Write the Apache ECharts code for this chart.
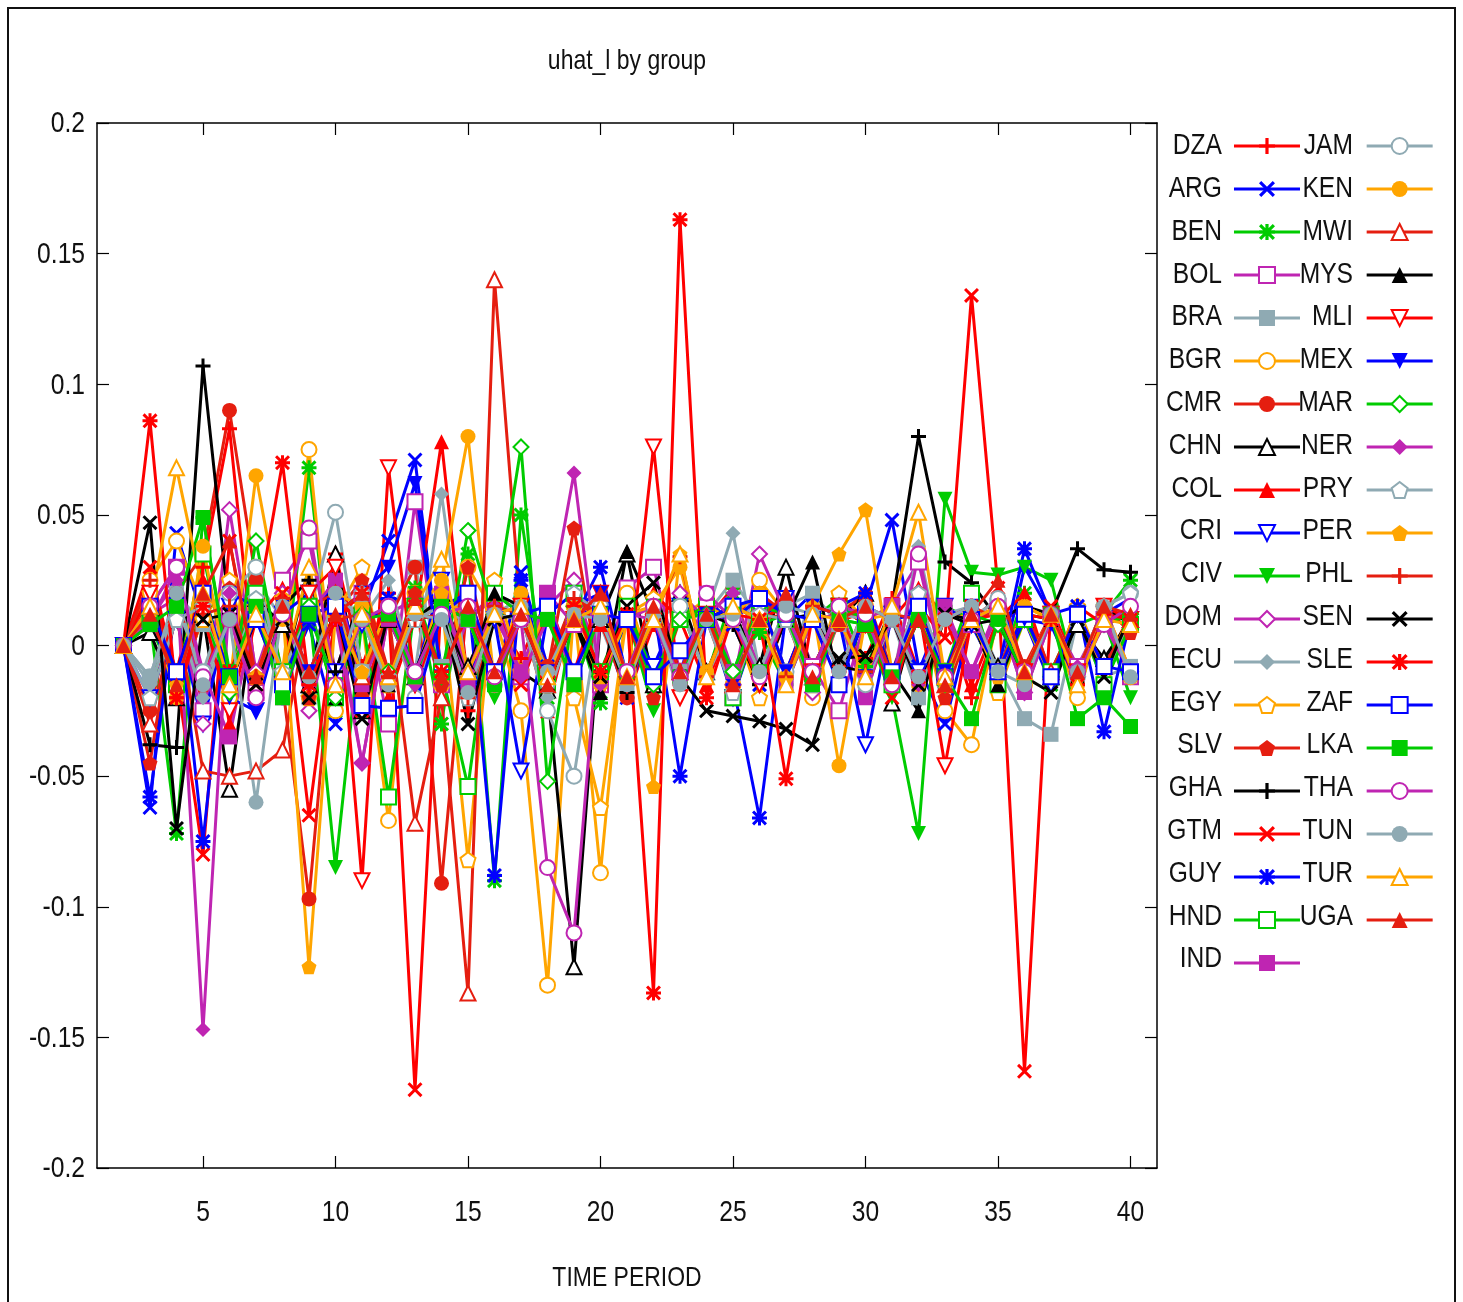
<!DOCTYPE html>
<html><head><meta charset="utf-8">
<script src="https://cdn.jsdelivr.net/npm/echarts@6/dist/echarts.min.js"></script>
<style>html,body{margin:0;padding:0;background:#fff}#c{width:1463px;height:1302px}</style>
</head><body><div id="c"></div>
<script>
// TIME PERIOD values
const periods = [2,3,4,5,6,7,8,9,10,11,12,13,14,15,16,17,18,19,20,21,22,23,24,25,26,27,28,29,30,31,32,33,34,35,36,37,38,39,40];
const xTicks = [5,10,15,20,25,30,35,40];
const yTicks = [-0.2,-0.15,-0.1,-0.05,0,0.05,0.1,0.15,0.2];
const yTickLabels = ['-0.2','-0.15','-0.1','-0.05','0','0.05','0.1','0.15','0.2'];
const countries = ['DZA','ARG','BEN','BOL','BRA','BGR','CMR','CHN','COL','CRI','CIV','DOM','ECU','EGY','SLV','GHA','GTM','GUY','HND','IND',
  'JAM','KEN','MWI','MYS','MLI','MEX','MAR','NER','PRY','PER','PHL','SEN','SLE','ZAF','LKA','THA','TUN','TUR','UGA'];

const DZA = [0,.022,-.010,.030,.083, -.015,.012,-.020,.035,-.008, .020,-.012,.015,-.025,.010, -.005,.018,-.010,.012,-.020, .008,-.015,.010,.022,-.012, .015,-.008,.010,-.005,.018, -.010,.012,-.020,.008,.015, -.012,.010,-.008,.012];
const ARG = [0,-.062,.043,.010,-.020, .025,-.015,.008,-.030,.012, .040,.071,-.010,.020,-.015, .028,-.008,.015,.010,-.020, .012,-.010,.018,.008,-.015, .010,.020,-.012,.015,.048, -.008,-.030,.010,-.015,.030, .012,-.010,.015,.008];
const BEN = [0,.010,-.072,.049,-.010, .020,-.018,.068,-.025,.015, -.012,.022,-.030,.035,-.090, .050,-.020,.012,-.022,.018, -.010,.015,-.012,.020,.005, -.015,.010,.018,-.008,.012, -.020,.015,.010,-.012,.020, -.015,.008,.012,.025];
const BOL = [0,.015,.030,-.025,.012, -.018,.025,.040,-.010,.020, -.030,.055,-.015,.010,.018, -.012,.020,.008,-.015,.022, .030,-.010,.015,-.020,.012, .018,-.008,-.025,.010,.015, .032,-.012,.008,.015,-.010, .012,-.008,.010,-.012];
const BRA = [0,-.012,.020,.008,-.015, .025,.010,-.020,.015,-.010, .012,.030,-.008,.018,-.012, .010,-.015,.020,.008,-.018, .015,-.010,.012,.025,.010, -.012,.020,.008,-.015,.010, -.020,.012,.015,-.008,-.028, -.034,.010,-.012,-.008];
const BGR = [0,.025,.040,.015,-.020, .030,-.010,.075,-.025,.010, -.067,.020,-.015,.030,.012, -.025,-.130,.015,-.087,.020, -.012,.010,.018,-.015,.025, .012,-.020,.010,.015,-.010, .018,-.025,-.038,.012,-.015, .010,-.020,.015,-.012];
const CMR = [0,-.025,.020,.035,.090, .025,-.015,-.097,.015,-.020, .010,.030,-.091,.020,-.015, .012,-.008,.018,.010,-.020, .015,-.012,.010,-.018,.020, .012,-.010,.008,.015,-.012, .020,-.015,.010,.018,-.008, .012,-.010,.008,.015];
const CHN = [0,.005,-.020,.012,-.055, .018,.008,-.015,.035,-.025, .010,-.012,.020,-.008,.015, -.010,-.017,-.123,.010,.035, -.015,.020,-.010,.012,-.008, .030,-.012,.010,.020,-.022, .015,-.010,.012,-.008,.010, -.012,.008,-.005,.010];
const COL = [0,.018,-.012,.025,-.030, .010,.022,-.018,.012,.015, -.020,.010,.078,-.015,.020, .012,-.025,.015,.008,-.012, .020,.010,-.015,.012,.018, -.010,.015,.012,-.018,.010, .022,.012,-.015,.010,.020, -.012,.015,.008,.012];
const CRI = [0,-.020,.010,-.030,.015, -.025,.012,.020,-.010,.008, .015,-.012,.025,-.018,.010, -.048,.012,.020,-.015,.010, -.008,.015,.012,-.020,.010, .018,-.012,.010,-.038,.012, -.010,.015,.008,-.012,.010, -.015,.012,-.008,.010];
const CIV = [0,.008,-.015,.020,-.010, .012,-.020,.015,-.085,.010, -.015,.020,-.010,.012,-.020, .015,-.012,.010,-.018,.012, -.025,.015,.010,-.012,.008, .012,-.015,.010,.008,-.020, -.072,.056,.028,.027,.030, .025,-.015,.010,-.020];
const DOM = [0,.012,.018,-.030,.052, -.010,.020,-.025,.015,-.045, .012,.018,-.015,.010,.020, -.012,.015,.025,-.010,.012, -.015,.020,.010,-.015,.035, .012,-.018,.010,.015,-.012, .020,-.015,.010,.012,-.018, .010,-.012,.015,-.010];
const ECU = [0,-.015,.012,-.020,.010, .020,-.012,.015,-.018,.010, .025,-.010,.058,-.015,.012, .018,-.020,.010,.012,-.015, .010,-.018,.012,.043,-.010, .015,.020,-.012,.010,-.015, .038,-.012,.010,-.015,.012, -.010,.012,-.015,.010];
const EGY = [0,.020,-.015,.010,.025, -.012,.018,-.020,.012,.030, -.015,.010,.018,-.082,.025, -.010,.015,-.020,-.062,.012, .018,-.012,.015,.010,-.020, .012,-.015,.020,.010,-.012, .015,-.010,.012,-.018,.010, -.012,.015,-.010,.012];
const SLV = [0,-.045,.018,-.015,.022, -.012,.015,-.020,.012,.025, -.010,.020,-.015,.030,-.012, .015,-.010,.045,-.015,.012, -.020,.010,.015,-.012,.018, .010,-.015,.012,.020,-.010, .015,-.020,.010,.012,-.015, .010,-.012,.015,.005];
const GHA = [0,-.038,-.039,.107,.012, -.020,.015,.025,-.010,.020, -.015,.010,.018,-.020,.012, .010,-.015,.020,.012,-.018, .015,-.010,.012,.008,-.015, .010,.012,-.008,-.010,.015, .080,.032,.024,.010,.015, .012,.037,.029,.028];
const GTM = [0,.030,-.012,-.080,.040, -.015,.020,-.065,.012,-.025, .015,-.170,.020,-.012,.018, -.015,.012,-.010,.020,-.012, .010,-.015,.012,-.018,.010, .015,-.012,.010,.012,-.020, .015,.003,.134,.022,-.163, .015,-.010,.008,.012];
const GUY = [0,-.058,.018,-.075,.020, .015,-.020,.010,.025,-.012, .018,-.010,.015,.020,-.088, .025,-.015,.010,.030,-.012, .015,-.050,.010,-.015,-.066, .012,-.010,.015,.020,-.012, .010,-.015,.012,-.010,.037, .012,.015,-.033,.010];
const HND = [0,.010,-.015,.035,-.012, .020,-.010,.015,-.020,.012, -.058,.015,-.010,-.054,.020, .012,-.015,.020,-.010,.015, -.012,.010,.015,-.020,.012, .010,-.012,.015,.008,-.015, .012,-.010,.020,-.015,.010, -.010,.012,-.015,.008];
const IND = [0,.008,.030,-.010,-.035, .015,-.020,.012,.025,-.015, .010,-.012,.020,-.015,.012, -.010,.020,-.015,.012,.010, .015,-.012,.020,-.010,.012, -.015,.010,.012,-.020,.015, -.012,.015,-.010,.012,-.018, .010,-.012,.008,-.010];
const JAM = [0,-.012,.015,-.010,.020, .030,-.015,.012,.051,-.010, .015,-.020,.012,.010,-.015, .012,-.025,-.050,.015,-.010, .010,.015,-.012,.010,.018, -.010,.012,.015,-.015,.010, .012,-.015,.010,.018,-.012, .010,-.012,.015,.020];
const KEN = [0,.015,-.020,.038,-.015, .065,.010,-.012,.020,.015, -.010,.012,.025,.080,-.015, .020,-.012,.010,-.015,.012, .015,.030,-.010,.012,.020, -.012,.015,-.046,.010,.012, -.015,.010,.012,-.010,.015, .010,-.015,.012,-.010];
const MWI = [0,-.030,.012,-.048,-.050, -.048,-.040,.015,.020,-.012, .012,-.068,-.020,-.133,.140, .012,-.015,.010,.020,-.012, .015,-.010,.012,-.015,.010, .012,-.010,.015,.008,-.012, .010,-.015,.012,-.010,.015, -.010,.012,-.008,.010];
const MYS = [0,.012,-.010,.020,-.015, .010,-.012,.030,-.020,.012, -.015,.010,.012,-.010,.020, .015,-.012,.010,-.018,.036, .012,-.015,.010,.015,-.012, .010,.032,-.015,.012,-.010, -.025,.012,.010,-.015,.012, .010,-.012,.015,.008];
const MLI = [0,.020,-.015,.012,-.025, .015,-.012,.020,.030,-.090, .068,-.015,.012,.020,-.010, .015,-.012,.010,.020,-.015, .076,-.020,.012,.010,-.015, .012,-.010,.015,.008,-.012, .015,-.046,.010,.012,-.010, .012,-.010,.015,.010];
const MEX = [0,.010,-.015,.020,-.020, -.025,.015,-.010,.012,.020, .030,.062,-.012,.015,-.010, .012,-.010,.015,.020,-.012, .010,-.015,.012,.010,.018, -.010,.015,.012,-.012,.010, .012,-.010,.015,-.012,.010, .008,-.015,.012,.018];
const MAR = [0,.012,-.010,.015,-.018, .040,-.012,.015,-.020,.012, -.010,.015,-.012,.044,.012, .076,-.052,.015,-.010,.012, -.015,.010,.012,-.010,.015, .012,-.010,.015,.010,-.012, .010,-.015,.012,.008,-.010, .012,-.010,.008,.012];
const NER = [0,.010,.025,-.147,.020, -.020,.012,-.015,.010,-.045, .012,-.015,.020,-.010,.015, -.012,.010,.066,-.015,.012, .010,-.015,.012,.020,-.010, .012,-.010,.015,-.012,.010, -.015,.012,-.010,.015,-.012, .010,-.008,.012,-.010];
const PRY = [0,-.020,.010,.015,-.012, .018,-.010,.012,-.015,.020, -.012,.010,.015,-.020,.012, .010,-.015,.020,.012,-.010, .015,-.012,.010,-.018,.012, .010,-.015,.012,.010,-.012, .020,-.012,.010,.015,-.010, .012,-.010,.015,.020];
const PER = [0,.012,-.015,.020,.010, -.012,.015,-.123,.012,-.010, .015,-.012,.020,.010,-.015, .012,-.010,.015,-.012,.010, -.054,.035,-.012,.015,.010, -.012,.015,.035,.052,-.010, .012,-.015,.010,-.012,.015, .010,-.012,.015,-.010];
const PHL = [0,.025,-.020,.012,.015, -.012,.018,-.015,.010,.012, -.015,.010,.012,-.020,.015, .012,-.010,.018,.012,-.015, .010,.034,-.012,.015,.010, -.012,.015,.012,-.010,.012, .010,-.012,.015,.010,-.012, .012,-.010,.008,.015];
const SEN = [0,.047,-.070,.010,.012, -.015,.010,-.020,.015,-.028, .012,-.010,.015,-.030,.010, .012,-.015,.010,-.012,.015, .024,-.012,-.025,-.027,-.029, -.032,-.038,-.005,-.004,.010, -.015,.012,.008,.010,-.012, -.018,.010,-.012,.012];
const SLE = [0,.086,-.020,.015,-.010, .012,.070,-.015,.010,.020, -.012,.015,-.010,.012,-.015, .010,-.012,.015,-.010,.012, -.133,.163,-.020,.012,.010, -.051,.012,-.010,.015,.010, -.012,.010,.015,-.010,.012, .010,-.015,.012,.010];
const ZAF = [0,.015,-.010,.020,-.012, .010,-.015,.012,.015,-.023, -.024,-.023,.012,.020,-.010, .012,.015,-.010,.012,.010, -.012,-.002,.010,.015,.018, .012,.010,-.015,.012,-.010, .015,-.012,.010,-.010,.012, -.012,.012,-.008,-.010];
const LKA = [0,.008,.015,.049,-.012, .015,-.020,.012,-.015,.010, .012,-.012,.015,.010,-.015, .012,.010,-.015,.012,-.010, .015,-.012,.010,.012,-.010, .012,-.015,.010,.008,-.012, .010,-.012,-.028,.010,-.012, .012,-.028,-.020,-.031];
const THA = [0,.015,.030,-.012,.010, -.020,.012,.045,-.015,.010, .015,-.010,.012,.015,-.012, .010,-.085,-.110,.012,-.010, .015,-.012,.020,.010,-.012, .012,-.010,.015,.012,-.015, .035,-.012,.010,.015,-.010, .012,-.010,.008,.015];
const TUN = [0,-.012,.020,-.015,.010, -.060,.015,-.012,.020,.010, -.015,.012,.010,-.018,.012, .015,-.010,.012,.010,-.015, .012,-.015,.010,.012,-.010, .015,.012,-.010,.015,.010, -.012,.010,.015,-.010,-.015, .012,-.010,.015,-.012];
const TUR = [0,.015,.068,.020,-.015, .012,-.010,.030,-.015,.012, -.012,.015,.033,-.010,.012, .015,-.012,.010,.015,-.012, .010,.035,-.012,.015,.010, -.015,.012,.010,-.012,.015, .051,-.012,.010,.015,-.010, .012,-.015,.010,.008];
const UGA = [0,.012,-.015,.020,.040, -.012,.015,-.010,.012,.020, -.010,.018,-.012,.015,-.010, .012,-.015,.010,.020,-.012, .015,-.010,.012,-.015,.010, .020,-.012,.010,.015,-.012, .010,-.015,.012,.025,-.010, .012,-.010,.015,.012];

const seriesValues = [DZA,ARG,BEN,BOL,BRA,BGR,CMR,CHN,COL,CRI,CIV,DOM,ECU,EGY,SLV,GHA,GTM,GUY,HND,IND,
  JAM,KEN,MWI,MYS,MLI,MEX,MAR,NER,PRY,PER,PHL,SEN,SLE,ZAF,LKA,THA,TUN,TUR,UGA];

const palette = ['#ff0000','#0000ff','#00cc00','#bf25b2','#8faab3','#ffa500','#e51e10','#000000'];
const P = {
  plus: 'path://M4,0H6V4H10V6H6V10H4V6H0V4H4Z',
  cross: 'path://M0,1.4L1.4,0L5,3.6L8.6,0L10,1.4L6.4,5L10,8.6L8.6,10L5,6.4L1.4,10L0,8.6L3.6,5Z',
  star: 'path://M4,0H6V4H10V6H6V10H4V6H0V4H4ZM0,1.4L1.4,0L5,3.6L8.6,0L10,1.4L6.4,5L10,8.6L8.6,10L5,6.4L1.4,10L0,8.6L3.6,5Z',
  tdown: 'path://M0,0L10,0L5,9Z',
  diamond: 'path://M5,0L10,5L5,10L0,5Z',
  pent: 'path://M5,0L10,3.8L8.1,10L1.9,10L0,3.8Z'
};
const symbols = [
  [P.plus,false],[P.cross,false],[P.star,false],['emptyRect',true],['rect',false],['emptyCircle',true],['circle',false],
  ['emptyTriangle',true],['triangle',false],['empty'+P.tdown,true],[P.tdown,false],['empty'+P.diamond,true],[P.diamond,false],
  ['empty'+P.pent,true],[P.pent,false]
];
const FONT = "'Liberation Sans',Arial,sans-serif";
const NARROW = 0.82;
const TXT = '#111';

const series = countries.map((name, i) => {
  const color = palette[i % 8];
  const [sym, empty] = symbols[i % 15];
  return {
    name, type: 'line', xAxisIndex: 0, yAxisIndex: 0,
    data: periods.map((t, k) => [t, seriesValues[i][k]]),
    symbol: sym, symbolSize: 15, showSymbol: true,
    lineStyle: {width: 3, color},
    itemStyle: {color, borderColor: color, borderWidth: empty ? 2.5 : 0},
    emphasis: {disabled: true}, animation: false
  };
});

const legendCommon = {
  orient: 'vertical', align: 'right', padding: 0, itemWidth: 66, itemHeight: 20, itemGap: 13,
  selectedMode: false,
  lineStyle: {width: 3},
  formatter: n => '{n|' + n + '}',
  textStyle: {fontFamily: FONT, fontSize: 30, color: 'rgba(0,0,0,0)', lineHeight: 30,
    rich: {n: {width: 56, align: 'right', padding: [0, 7, 0, 0], fontFamily: FONT, fontSize: 30, lineHeight: 30, color: 'rgba(0,0,0,0)'}}}
};

const chart = echarts.init(document.getElementById('c'), null, {renderer: 'canvas'});
chart.setOption({
  backgroundColor: '#fff',
  animation: false,
  grid: {left: 97, top: 123, right: 306, bottom: 134, show: false, containLabel: false, outerBoundsMode: 'none'},
  legend: [
    Object.assign({}, legendCommon, {left: 1152, top: 131, data: countries.slice(0, 20)}),
    Object.assign({}, legendCommon, {left: 1288, top: 131, data: countries.slice(20)})
  ],
  xAxis: [
    {type: 'value', min: 1, max: 41, position: 'bottom',
     axisLine: {show: true, onZero: false, lineStyle: {color: '#000', width: 1.5}},
     axisTick: {show: true, inside: true, length: 12, customValues: xTicks, lineStyle: {color: '#000', width: 1.2}},
     axisLabel: {show: false}, splitLine: {show: false}},
    {type: 'value', min: 1, max: 41, position: 'top',
     axisLine: {show: true, onZero: false, lineStyle: {color: '#000', width: 1.5}},
     axisTick: {show: true, inside: true, length: 12, customValues: xTicks, lineStyle: {color: '#000', width: 1.2}},
     axisLabel: {show: false}, splitLine: {show: false}}
  ],
  yAxis: [
    {type: 'value', min: -0.2, max: 0.2, interval: 0.05, position: 'left',
     axisLine: {show: true, onZero: false, lineStyle: {color: '#000', width: 1.5}},
     axisTick: {show: true, inside: true, length: 12, lineStyle: {color: '#000', width: 1.2}},
     axisLabel: {show: false}, splitLine: {show: false}},
    {type: 'value', min: -0.2, max: 0.2, interval: 0.05, position: 'right',
     axisLine: {show: true, onZero: false, lineStyle: {color: '#000', width: 1.5}},
     axisTick: {show: true, inside: true, length: 12, lineStyle: {color: '#000', width: 1.2}},
     axisLabel: {show: false}, splitLine: {show: false}}
  ],
  series
});

// Narrow (condensed) text drawn as graphic elements, positioned through the axes' own scales
function narrowText(id, text, x, y, size, align) {
  return {type: 'text', id, x, y, scaleX: NARROW, silent: true, z: 100,
    style: {text, fontFamily: FONT, fontSize: size, fill: TXT, align, verticalAlign: 'middle'}};
}
const gfx = [
  {type: 'rect', id: 'frame', shape: {x: 8, y: 8, width: 1447, height: 1310}, style: {fill: 'none', stroke: '#111', lineWidth: 2}, silent: true},
  narrowText('title', 'uhat_l by group', 627, 61, 28, 'center'),
  narrowText('xname', 'TIME PERIOD', 627, 1278, 28, 'center')
];
const axisBottom = chart.convertToPixel({yAxisIndex: 0}, -0.2);
const axisLeft = chart.convertToPixel({xAxisIndex: 0}, 1);
xTicks.forEach((v, i) => {
  gfx.push(narrowText('xl' + i, String(v), chart.convertToPixel({xAxisIndex: 0}, v), axisBottom + 45, 30, 'center'));
});
yTicks.forEach((v, i) => {
  gfx.push(narrowText('yl' + i, yTickLabels[i], axisLeft - 12, chart.convertToPixel({yAxisIndex: 0}, v) + 1, 30, 'right'));
});
const rowY0 = 146, rowStep = 42.8;
countries.forEach((name, i) => {
  const col = i < 20 ? 0 : 1;
  const row = col ? i - 20 : i;
  gfx.push(narrowText('lg' + i, name, col ? 1353 : 1222, rowY0 + row * rowStep, 30, 'right'));
});
chart.setOption({graphic: gfx});
</script>
</body></html>
